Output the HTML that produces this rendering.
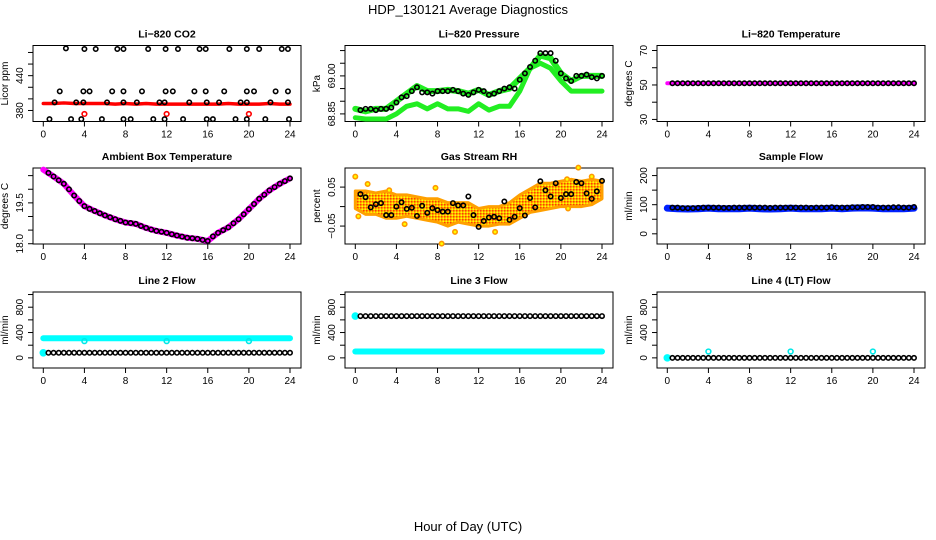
<!DOCTYPE html>
<html><head><meta charset="utf-8"><style>
html,body{margin:0;padding:0;background:#fff;}
svg{display:block;font-family:"Liberation Sans",Arial,sans-serif;}
</style></head><body>
<svg id="chart" width="936" height="540" viewBox="0 0 936 540" xmlns="http://www.w3.org/2000/svg">
<rect x="0" y="0" width="936" height="540" fill="#fff"/>
<text x="468" y="14" text-anchor="middle" font-size="13">HDP_130121  Average Diagnostics</text>
<text x="468" y="531" text-anchor="middle" font-size="13">Hour of Day (UTC)</text>
</svg>
<script>
const hourly=[0,1,2,3,4,5,6,7,8,9,10,11,12,13,14,15,16,17,18,19,20,21,22,23,24];
const halfHours=[0.5,1,1.5,2,2.5,3,3.5,4,4.5,5,5.5,6,6.5,7,7.5,8,8.5,9,9.5,10,10.5,11,11.5,12,12.5,13,13.5,14,14.5,15,15.5,16,16.5,17,17.5,18,18.5,19,19.5,20,20.5,21,21.5,22,22.5,23,23.5,24];
const xTicks=[0,4,8,12,16,20,24];
const xTickLabels=["0","4","8","12","16","20","24"];

// CO2
const co2Red=[392,392,393,392,392,392,392,391,392,391,392,391,391,391,391,391,391,391,392,391,391,391,392,391,391];
const co2RedDotsX=[4,12,20];
const co2RedDotsY=[374,374,374];
const co2BlackX=[2.2,4.0,5.1,7.2,7.8,10.2,11.9,13.1,15.2,15.8,18.1,19.8,21.0,23.2,23.8,1.6,3.9,4.5,6.7,7.8,9.6,11.9,12.6,14.7,15.8,17.6,19.8,20.5,22.6,23.8,1.1,3.2,3.9,6.2,7.8,9.1,11.3,11.8,14.2,15.9,17.1,19.2,19.8,22.1,23.8,0.6,2.7,3.7,5.7,7.8,8.5,10.7,11.8,13.6,15.9,16.5,18.7,19.8,21.6,23.9];
const co2BlackY=[487,486,486,486,486,486,486,486,486,486,486,486,486,486,486,413,413,413,413,413,413,413,413,413,413,413,413,413,413,413,394,394,394,394,394,394,394,394,394,394,394,394,394,394,394,365,365,365,365,365,365,365,365,365,365,365,365,365,365,365];

// Pressure
const presUpper=[68.87,68.86,68.87,68.87,68.90,68.93,68.96,68.94,68.94,68.945,68.94,68.93,68.945,68.925,68.94,68.95,68.99,69.03,69.08,69.07,69.01,68.98,69.0,69.0,69.0];
const presLower=[68.835,68.83,68.83,68.83,68.85,68.88,68.89,68.87,68.89,68.87,68.87,68.86,68.89,68.865,68.88,68.88,68.94,69.03,69.05,69.03,68.98,68.94,68.94,68.94,68.94];
const presBlack=[68.865,68.87,68.87,68.865,68.87,68.87,68.875,68.895,68.915,68.92,68.94,68.955,68.935,68.935,68.93,68.94,68.94,68.94,68.945,68.94,68.93,68.925,68.935,68.945,68.94,68.925,68.93,68.94,68.95,68.955,68.95,68.985,69.01,69.035,69.06,69.09,69.09,69.09,69.06,69.01,68.99,68.98,69.0,69.0,69.005,68.995,68.99,69.0];

// Li-820 Temperature
const tempMagenta=[51,51,51,51,51,51,51,51,51,51,51,51,51,51,51,51,51,51,51,51,51,51,51,51,51];
const tempBlack=[51,51,51,51,51,51,51,51,51,51,51,51,51,51,51,51,51,51,51,51,51,51,51,51,51,51,51,51,51,51,51,51,51,51,51,51,51,51,51,51,51,51,51,51,51,51,51,51];

// Ambient
const ambMagenta=[20.72,20.47,20.2,19.77,19.38,19.2,19.04,18.9,18.78,18.73,18.58,18.47,18.4,18.3,18.22,18.18,18.1,18.4,18.6,18.9,19.27,19.65,19.96,20.2,20.4];
const ambBlack=[20.6,20.47,20.33,20.2,20.0,19.77,19.57,19.38,19.28,19.2,19.12,19.04,18.97,18.9,18.84,18.78,18.76,18.73,18.65,18.58,18.52,18.47,18.44,18.4,18.35,18.3,18.26,18.22,18.2,18.18,18.14,18.1,18.27,18.4,18.5,18.6,18.75,18.9,19.08,19.27,19.46,19.65,19.8,19.96,20.08,20.2,20.3,20.4];

// RH
const rhLow=[-0.005,-0.02,-0.02,-0.03,-0.03,-0.025,-0.03,-0.035,-0.04,-0.05,-0.04,-0.045,-0.05,-0.05,-0.045,-0.045,-0.03,-0.015,-0.01,-0.005,0.0,0.0,0.0,0.005,0.02];
const rhHigh=[0.04,0.04,0.035,0.04,0.03,0.03,0.025,0.02,0.02,0.01,0.01,0.01,-0.005,0.0,0.0,0.01,0.03,0.045,0.06,0.06,0.065,0.07,0.065,0.07,0.065];
const rhOutX=[0,1.2,7.8,8.4,9.7,13.6,21.7,23,20.6,20.7,3.3,4.8,0.3];
const rhOutY=[0.077,0.058,0.048,-0.095,-0.065,-0.065,0.1,0.077,0.07,-0.005,0.042,-0.045,-0.025];
const rhBlack=[0.032,0.024,-0.002,0.006,0.009,-0.022,-0.022,0,0.011,-0.006,-0.003,-0.024,0.002,-0.016,-0.004,-0.009,-0.013,-0.013,0.009,0.003,0.003,0.026,-0.022,-0.052,-0.037,-0.028,-0.026,-0.03,0.013,-0.034,-0.026,-0.004,-0.023,0.022,-0.002,0.065,0.042,0.026,0.06,0.022,0.032,0.032,0.063,0.06,0.034,0.02,0.039,0.066];

// Sample flow
const sampleBlue=[88,86,85,86,88,86,86,86,88,86,85,86,88,86,86,86,88,86,88,89,88,86,86,86,88];
const sampleBlack=[90,90,88,88,88,89,90,90,90,90,89,89,90,90,90,90,90,90,90,89,90,90,90,90,90,90,90,89,90,90,90,91,90,90,90,91,91,92,92,92,90,90,90,91,91,90,90,92];

// Line 2
const l2CyanUp=[310,310,310,310,310,310,310,310,310,310,310,310,310,310,310,310,310,310,310,310,310,310,310,310,310];
const l2CyanDipX=[4,12,20];
const l2CyanDipY=[265,265,265];
const l2CyanLow=[80];
const l2Black=[80,80,80,80,80,80,80,80,80,80,80,80,80,80,80,80,80,80,80,80,80,80,80,80,80,80,80,80,80,80,80,80,80,80,80,80,80,80,80,80,80,80,80,80,80,80,80,80];

// Line 3
const l3CyanLow=[100,100,100,100,100,100,100,100,100,100,100,100,100,100,100,100,100,100,100,100,100,100,100,100,100];
const l3CyanUp=[660];
const l3Black=[660,660,660,660,660,660,660,660,660,660,660,660,660,660,660,660,660,660,660,660,660,660,660,660,660,660,660,660,660,660,660,660,660,660,660,660,660,660,660,660,660,660,660,660,660,660,660,660];

// Line 4
const l4CyanStart=[0];
const l4CyanSpikeX=[4,12,20];
const l4CyanSpikeY=[100,100,100];
const l4Black=[0,0,0,0,0,0,0,0,0,0,0,0,0,0,0,0,0,0,0,0,0,0,0,0,0,0,0,0,0,0,0,0,0,0,0,0,0,0,0,0,0,0,0,0,0,0,0,0];

const NS="http://www.w3.org/2000/svg";
const svg=document.getElementById('chart');
function mk(tag,attrs,parent){const e=document.createElementNS(NS,tag);for(const k in attrs)e.setAttribute(k,attrs[k]);(parent||svg).appendChild(e);return e;}

function panel(name,title,col,row,ymin,ymax,yTicks,yLabels,ytitle){
  const L=[33,345,657][col], T=[45.5,168,292][row], W=268, H=76;
  const g=mk('g',{});
  
  
  const xs=v=>L+10.3+v/24*246.7;
  const ys=v=>T+H-(v-ymin)/(ymax-ymin)*H;
  const tt=mk('text',{x:L+W/2,y:T-8,'text-anchor':'middle','font-size':'10.5','font-weight':'bold'},g);
  tt.textContent=title;
  
  
  const box=mk('rect',{x:L,y:T,width:W,height:H,fill:'none',stroke:'#000','stroke-width':1},g);
  
  
  const xa=mk('g',{},g);
  
  
  mk('line',{x1:xs(0),x2:xs(24),y1:T+H,y2:T+H,stroke:'#000'},xa);
  xTicks.forEach((t,i)=>{
    mk('line',{x1:xs(t),x2:xs(t),y1:T+H,y2:T+H+5,stroke:'#000'},xa);
    const tx=mk('text',{x:xs(t),y:T+H+16,'text-anchor':'middle','font-size':'10'},xa);
    tx.textContent=xTickLabels[i];
  });
  const ya=mk('g',{},g);
  
  
  mk('line',{x1:L,x2:L,y1:ys(yTicks[0]),y2:ys(yTicks[yTicks.length-1]),stroke:'#000'},ya);
  yTicks.forEach((t,i)=>{
    mk('line',{x1:L-5,x2:L,y1:ys(t),y2:ys(t),stroke:'#000'},ya);
    if(yLabels[i]){
      const tx=mk('text',{x:L-10,y:ys(t),'text-anchor':'middle','font-size':'10',transform:`rotate(-90 ${L-10} ${ys(t)})`},ya);
      tx.textContent=yLabels[i];
    }
  });
  const yt=mk('text',{x:L-25,y:T+H/2,'text-anchor':'middle','font-size':'10',transform:`rotate(-90 ${L-25} ${T+H/2})`},g);
  yt.textContent=ytitle;
  
  
  const clip='c'+name;
  const cp=mk('clipPath',{id:clip},g);mk('rect',{x:L,y:T-4,width:W,height:H+8},cp);
  const d=mk('g',{'clip-path':`url(#${clip})`},g);
  return {xs,ys,g:d};
}
function band(p,xsArr,vals,color,w,name){
  const pts=vals.map((v,i)=>p.xs(xsArr[i])+','+p.ys(v)).join(' ');
  const pl=mk('polyline',{points:pts,fill:'none',stroke:color,'stroke-width':w,'stroke-linecap':'round','stroke-linejoin':'round'},p.g);
  
  
}
function dots(p,xsArr,vals,color,r,name,fill){
  const gg=mk('g',{},p.g);
  
  
  vals.forEach((v,i)=>{mk('circle',{cx:p.xs(xsArr[i]),cy:p.ys(v),r:r,fill:fill||'none',stroke:color,'stroke-width':1.6},gg);});
}

// CO2
let p=panel('co2','Li\u2212820 CO2',0,0,361,492,[380,400,420,440,460,480],['380','','','440','',''],'Licor ppm');
band(p,hourly,co2Red,'#ff0000',3.5,'co2-red-series');
dots(p,co2RedDotsX,co2RedDotsY,'#ff0000',2.3,'co2-red-points');
dots(p,co2BlackX,co2BlackY,'#000',2.2,'co2-black-points');

// Pressure
p=panel('pressure','Li\u2212820 Pressure',1,0,68.82,69.12,[68.85,68.90,68.95,69.00,69.05,69.10],['68.85','','','69.00','',''],'kPa');
band(p,hourly,presLower,'#22ee22',5,'pressure-green-lower');
band(p,hourly,presUpper,'#22ee22',6,'pressure-green-upper');
dots(p,halfHours,presBlack,'#000',2.2,'pressure-black-points');

// Temperature
p=panel('li820-temp','Li\u2212820 Temperature',2,0,28.8,72.9,[30,40,50,60,70],['30','','50','','70'],'degrees C');
band(p,hourly,tempMagenta,'#ff00ff',4,'temp-magenta-series');
dots(p,halfHours,tempBlack,'#000',2.2,'temp-black-points');

// Ambient
p=panel('ambient','Ambient Box Temperature',0,1,17.99,20.78,[18.0,18.5,19.0,19.5,20.0,20.5],['18.0','','','19.5','',''],'degrees C');
band(p,hourly,ambMagenta,'#ff00ff',6,'ambient-magenta-series');
dots(p,halfHours,ambBlack,'#000',2.2,'ambient-black-points');

// RH
p=panel('rh','Gas Stream RH',1,1,-0.096,0.099,[-0.05,0,0.05],['\u22120.05','','0.05'],'percent');
{
  const top=hourly.map((h,i)=>p.xs(h)+','+p.ys(rhHigh[i]));
  const bot=hourly.map((h,i)=>p.xs(h)+','+p.ys(rhLow[i])).reverse();
  const pat=mk('pattern',{id:'rhpat',width:3,height:3,patternUnits:'userSpaceOnUse'},svg);
  mk('rect',{width:3,height:3,fill:'#ffb000'},pat);mk('rect',{width:1.5,height:1.5,fill:'#ff4000'},pat);mk('rect',{x:1.5,y:1.5,width:1.5,height:1.5,fill:'#ffff00'},pat);
  const pg=mk('polygon',{points:top.concat(bot).join(' '),fill:'url(#rhpat)',stroke:'#ffa000','stroke-width':3,'stroke-linejoin':'round'},p.g);
  
  
}
dots(p,rhOutX,rhOutY,'#ff9900',2.2,'rh-orange-outliers','#ffff00');
dots(p,halfHours,rhBlack,'#000',2.2,'rh-black-points');

// Sample flow
p=panel('sample-flow','Sample Flow',2,1,-35,226,[0,50,100,150,200],['0','','100','','200'],'ml/min');
band(p,hourly,sampleBlue,'#0020ff',7,'sample-blue-series');
dots(p,halfHours,sampleBlack,'#000',2.2,'sample-black-points');

const flowTicks=[0,200,400,600,800,1000];
const flowLabels=['0','','400','','800',''];
// Line 2
p=panel('line2','Line 2 Flow',0,2,-160,1040,flowTicks,flowLabels,'ml/min');
band(p,hourly,l2CyanUp,'#00ffff',6,'line2-cyan-upper');
dots(p,l2CyanDipX,l2CyanDipY,'#00e8e8',2.4,'line2-cyan-dips');
dots(p,[0],l2CyanLow,'#00ffff',3,'line2-cyan-lower','#00ffff');
dots(p,halfHours,l2Black,'#000',2.2,'line2-black-points');

// Line 3
p=panel('line3','Line 3 Flow',1,2,-160,1040,flowTicks,flowLabels,'ml/min');
band(p,hourly,l3CyanLow,'#00ffff',6,'line3-cyan-lower');
dots(p,[0],l3CyanUp,'#00ffff',3,'line3-cyan-upper','#00ffff');
dots(p,halfHours,l3Black,'#000',2.2,'line3-black-points');

// Line 4
p=panel('line4','Line 4 (LT) Flow',2,2,-160,1040,flowTicks,flowLabels,'ml/min');
dots(p,[0],l4CyanStart,'#00ffff',3,'line4-cyan-start','#00ffff');
dots(p,l4CyanSpikeX,l4CyanSpikeY,'#00e8e8',2.4,'line4-cyan-spikes');
dots(p,halfHours,l4Black,'#000',2.2,'line4-black-points');
</script>
</body></html>
